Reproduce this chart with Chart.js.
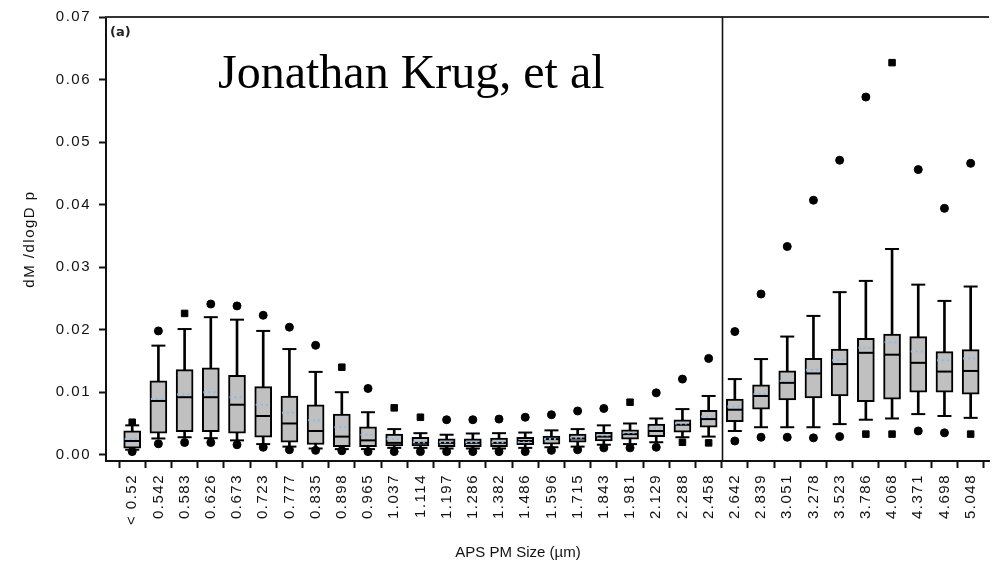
<!DOCTYPE html>
<html>
<head>
<meta charset="utf-8">
<title>APS PM Size distribution</title>
<script src="https://cdn.jsdelivr.net/npm/chart.js@4"></script>
<style>
  html, body { margin: 0; padding: 0; background: #fff; overflow: hidden; }
  #wrap { width: 999px; height: 571px; position: relative; }
</style>
</head>
<body>
<div id="wrap"><canvas id="chart"></canvas></div>
<script>
// APS size bins (µm)
const categories = ['< 0.52', '0.542', '0.583', '0.626', '0.673', '0.723', '0.777', '0.835', '0.898', '0.965',
  '1.037', '1.114', '1.197', '1.286', '1.382', '1.486', '1.596', '1.715', '1.843', '1.981',
  '2.129', '2.288', '2.458', '2.642', '2.839', '3.051', '3.278', '3.523', '3.786', '4.068',
  '4.371', '4.698', '5.048'];

// box statistics of dM/dlogDp per bin
const q1 = [0.00106, 0.00345, 0.0037, 0.0037, 0.00345, 0.0028, 0.0020, 0.00164, 0.0013, 0.0013,
  0.00143, 0.00143, 0.0013, 0.0013, 0.0013, 0.0016, 0.0017, 0.0020, 0.0022, 0.0025,
  0.0029, 0.0036, 0.0044, 0.0053, 0.0073, 0.00875, 0.0091, 0.0094, 0.0085, 0.0089,
  0.0100, 0.0100, 0.0097];
const median = [0.0022, 0.0086, 0.0092, 0.0092, 0.0080, 0.0062, 0.0050, 0.0038, 0.0029, 0.0023,
  0.0019, 0.0019, 0.0019, 0.0019, 0.0019, 0.0022, 0.0025, 0.0026, 0.0029, 0.0033,
  0.0038, 0.0048, 0.0057, 0.0072, 0.0094, 0.0115, 0.0130, 0.0145, 0.0163, 0.0160,
  0.0147, 0.0133, 0.0134];
const q3 = [0.00382, 0.0118, 0.0136, 0.0139, 0.0127, 0.0109, 0.0094, 0.0080, 0.0065, 0.00445,
  0.0033, 0.0028, 0.00255, 0.00255, 0.00265, 0.0028, 0.0030, 0.0033, 0.0036, 0.0040,
  0.0049, 0.0056, 0.0071, 0.0089, 0.0112, 0.0134, 0.0154, 0.0169, 0.0186, 0.0193,
  0.0189, 0.0165, 0.0168];
const mean = [0.0025, 0.0089, 0.00965, 0.0100, 0.0092, 0.0080, 0.0067, 0.0055, 0.0044, 0.0032,
  0.0025, 0.0020, 0.0020, 0.0020, 0.0020, 0.0020, 0.0025, 0.0027, 0.0031, 0.0035,
  0.0042, 0.0050, 0.0061, 0.0077, 0.0097, 0.0118, 0.0136, 0.0151, 0.0171, 0.0180,
  0.0165, 0.0151, 0.0154];
const whiskerLow = [0.0008, 0.0026, 0.0028, 0.00265, 0.0023, 0.0017, 0.0013, 0.0010, 0.0009, 0.0009,
  0.0011, 0.0011, 0.0010, 0.0010, 0.0010, 0.0011, 0.0012, 0.0013, 0.0016, 0.0017,
  0.0020, 0.0028, 0.0029, 0.0038, 0.0044, 0.0044, 0.0044, 0.0049, 0.0056, 0.0058,
  0.0065, 0.0062, 0.0059];
const whiskerHigh = [0.0047, 0.01745, 0.0201, 0.0220, 0.0216, 0.0198, 0.0169, 0.01325, 0.0100, 0.0068,
  0.0041, 0.00345, 0.0032, 0.0034, 0.00345, 0.00355, 0.0039, 0.0041, 0.0047, 0.0050,
  0.0058, 0.0073, 0.0094, 0.0121, 0.0153, 0.0189, 0.0222, 0.0260, 0.0278, 0.0329,
  0.0272, 0.0246, 0.0269];
const outlierLow = [0.0005, 0.00175, 0.00196, 0.00196, 0.0016, 0.0012, 0.0008, 0.0007, 0.00064, 0.0005,
  0.0005, 0.0005, 0.0005, 0.0005, 0.0005, 0.0005, 0.0007, 0.0008, 0.0011, 0.0011,
  0.0012, 0.0020, 0.0019, 0.0022, 0.0028, 0.0028, 0.0027, 0.0029, 0.0033, 0.0033,
  0.0038, 0.0035, 0.0033];
const outlierHigh = [0.0052, 0.0198, 0.0226, 0.0241, 0.0238, 0.0223, 0.0204, 0.0175, 0.0140, 0.0106,
  0.0075, 0.0060, 0.0056, 0.0056, 0.0057, 0.0060, 0.0064, 0.0070, 0.0074, 0.0084,
  0.0099, 0.0121, 0.0154, 0.0197, 0.0257, 0.0333, 0.0407, 0.0471, 0.0572, 0.0627,
  0.0456, 0.0394, 0.0466];

// marker shape of each outlier point
const outlierLowShape = categories.map((_, i) => [21, 22, 28, 29, 32].includes(i) ? 'rect' : 'circle');
const outlierHighShape = categories.map((_, i) => [0, 2, 8, 10, 11, 19, 29].includes(i) ? 'rect' : 'circle');

const yTicks = [0, 0.01, 0.02, 0.03, 0.04, 0.05, 0.06, 0.07];
const SECTION_BREAK = 22.5;   // between the 2.458 and 2.642 bins

const FONT = "'Liberation Sans', Arial, sans-serif";
const TEXT = '#111';

const pts = arr => arr.map((v, i) => ({ x: i, y: v }));

// dotted stroke for datasets flagged with a dash pattern
const dashPlugin = {
  id: 'dashPlugin',
  beforeDatasetDraw(chart, args) {
    const ds = chart.data.datasets[args.index];
    if (ds.dash) { chart.ctx.save(); chart.ctx.setLineDash(ds.dash); }
  },
  afterDatasetDraw(chart, args) {
    if (chart.data.datasets[args.index].dash) chart.ctx.restore();
  }
};

// frame top edge, section divider and text labels
const framePlugin = {
  id: 'framePlugin',
  beforeDraw(chart) {
    chart.ctx.letterSpacing = '1.5px';
  },
  afterDraw(chart) {
    const { ctx, chartArea: a, scales: { x } } = chart;
    ctx.save();
    ctx.lineWidth = 2;
    ctx.strokeStyle = '#333';
    ctx.beginPath();
    ctx.moveTo(a.left - 1, a.top);
    ctx.lineTo(a.right, a.top);
    ctx.stroke();

    const dx = Math.round(x.getPixelForValue(SECTION_BREAK)) + 0.5;
    ctx.strokeStyle = '#111';
    ctx.lineWidth = 1.6;
    ctx.beginPath();
    ctx.moveTo(dx, a.top);
    ctx.lineTo(dx, a.bottom);
    ctx.stroke();

    ctx.fillStyle = '#222';
    ctx.letterSpacing = '0px';
    ctx.textAlign = 'left';
    ctx.textBaseline = 'alphabetic';
    ctx.font = "bold 13px 'DejaVu Sans', sans-serif";
    ctx.fillText('(a)', a.left + 4, a.top + 19);

    ctx.fillStyle = '#000';
    ctx.font = "48px 'Liberation Serif', 'Times New Roman', serif";
    ctx.fillText('Jonathan Krug, et al', a.left + 112, a.top + 71);

    ctx.fillStyle = TEXT;
    ctx.letterSpacing = '0px';
    ctx.font = '15px ' + FONT;
    ctx.textAlign = 'center';
    ctx.textBaseline = 'middle';
    ctx.fillText('APS PM Size (µm)', 518, 553);
    ctx.restore();
  }
};

const pointSet = (data, extra) => Object.assign({
  type: 'line',
  data: pts(data),
  showLine: false,
  pointBorderColor: '#000',
  pointBackgroundColor: '#000',
  pointBorderWidth: 2,
  pointHoverBorderWidth: 2
}, extra);

new Chart(document.getElementById('chart'), {
  type: 'bar',
  data: {
    datasets: [
      { // whiskers
        type: 'bar',
        data: categories.map((_, i) => ({ x: i, y: [whiskerLow[i], whiskerHigh[i]] })),
        backgroundColor: '#000',
        borderWidth: 0,
        barThickness: 2,
        grouped: false,
        order: 6
      },
      { // interquartile boxes
        type: 'bar',
        data: categories.map((_, i) => ({ x: i, y: [q1[i], q3[i]] })),
        backgroundColor: '#c0c0c0',
        borderColor: '#000',
        borderWidth: 2,
        borderSkipped: false,
        barThickness: 17,
        grouped: false,
        order: 5
      },
      pointSet(whiskerHigh, { pointStyle: 'line', pointRadius: 7, pointHoverRadius: 7, order: 4 }),
      pointSet(whiskerLow, { pointStyle: 'line', pointRadius: 7, pointHoverRadius: 7, order: 4 }),
      pointSet(median, { pointStyle: 'line', pointRadius: 8, pointHoverRadius: 8, order: 3 }),
      pointSet(mean, {
        pointStyle: 'line', pointRadius: 7.5, pointHoverRadius: 7.5,
        pointBorderColor: '#8fb8e8', pointBorderWidth: 2, dash: [2, 3], order: 2
      }),
      pointSet(outlierLow, {
        pointStyle: c => outlierLowShape[c.dataIndex],
        pointRadius: c => outlierLowShape[c.dataIndex] === 'rect' ? 4.6 : 4,
        pointHoverRadius: c => outlierLowShape[c.dataIndex] === 'rect' ? 4.6 : 4,
        pointBorderWidth: 1, order: 1
      }),
      pointSet(outlierHigh, {
        pointStyle: c => outlierHighShape[c.dataIndex],
        pointRadius: c => outlierHighShape[c.dataIndex] === 'rect' ? 4.6 : 4,
        pointHoverRadius: c => outlierHighShape[c.dataIndex] === 'rect' ? 4.6 : 4,
        pointBorderWidth: 1, order: 1
      })
    ]
  },
  options: {
    responsive: true,
    maintainAspectRatio: false,
    devicePixelRatio: 1,
    animation: false,
    events: [],
    layout: { padding: { top: 15, left: 0, right: 0, bottom: 0 } },
    plugins: { legend: { display: false }, tooltip: { enabled: false } },
    scales: {
      x: {
        type: 'linear',
        min: -1,
        max: 32.7,
        offset: false,
        afterBuildTicks: s => { s.ticks = categories.map((_, i) => ({ value: i })); },
        afterFit: s => { s.height = 110; },
        grid: { drawOnChartArea: false, drawTicks: true, tickLength: 7, tickWidth: 2, tickColor: '#111' },
        border: { display: true, color: '#111', width: 2 },
        ticks: {
          autoSkip: false,
          minRotation: 90,
          maxRotation: 90,
          padding: 6,
          color: TEXT,
          font: { family: FONT, size: 15 },
          callback: v => categories[v]
        }
      },
      y: {
        min: -0.001,
        max: 0.07,
        afterBuildTicks: s => { s.ticks = yTicks.map(v => ({ value: v })); },
        afterFit: s => { s.width = 106; },
        grid: { drawOnChartArea: false, drawTicks: true, tickLength: 7, tickWidth: 2, tickColor: '#111' },
        border: { display: true, color: '#111', width: 2 },
        ticks: {
          padding: 8,
          color: TEXT,
          font: { family: FONT, size: 15 },
          callback: v => v.toFixed(2)
        },
        title: {
          display: true,
          text: 'dM /dlogD p',
          color: TEXT,
          font: { family: FONT, size: 15 },
          padding: { top: 21, bottom: 0 }
        }
      }
    }
  },
  plugins: [dashPlugin, framePlugin]
});
</script>
</body>
</html>
